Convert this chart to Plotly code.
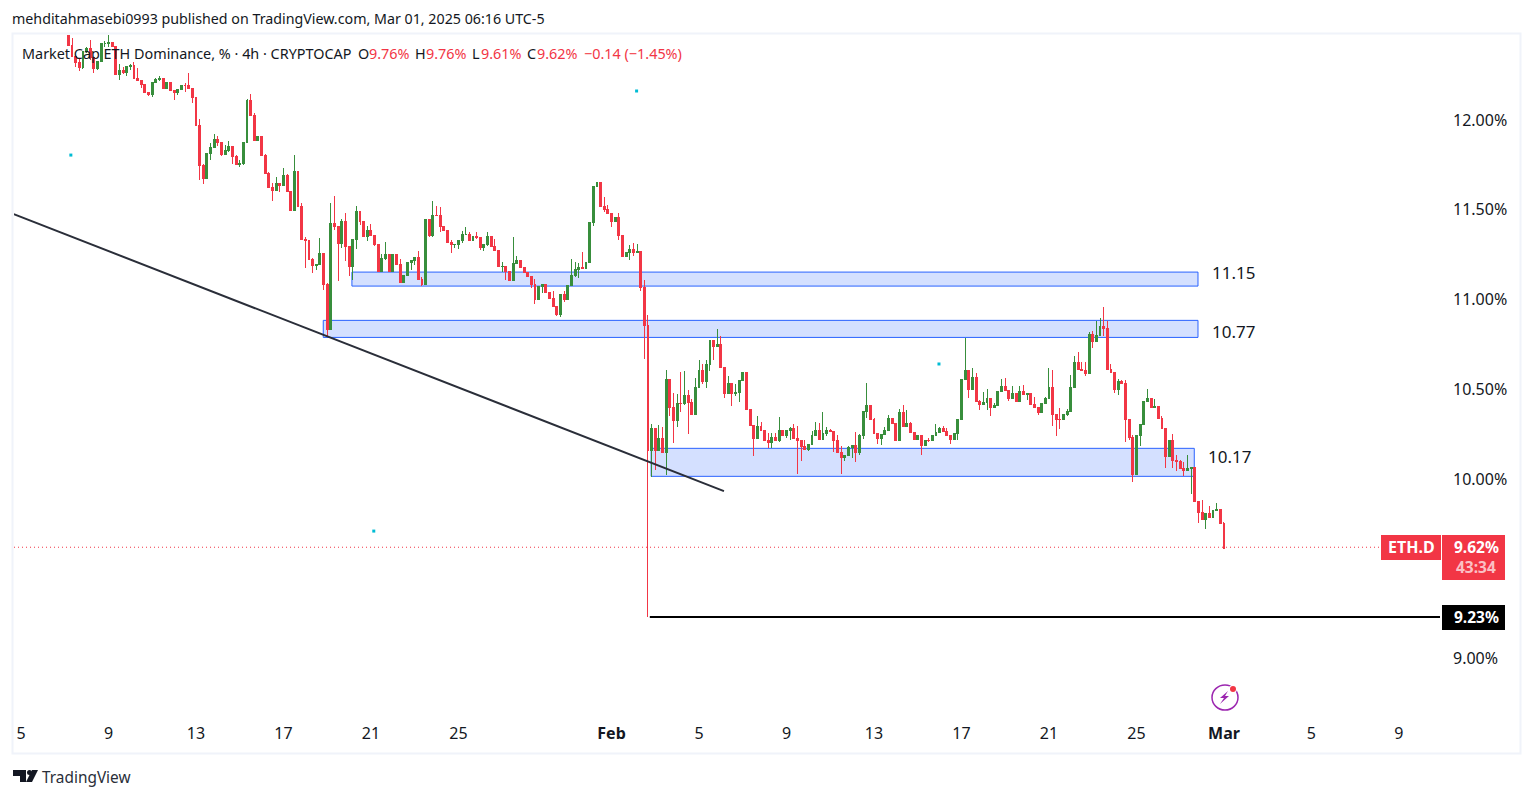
import pandas as pd
import plotly.graph_objects as go

FIRST_OPEN = 12.48
closes = [12.417,12.352,12.319,12.291,12.38,12.399,12.349,12.287,12.325,12.427,
12.427,12.432,12.408,12.256,12.278,12.267,12.297,12.302,12.234,12.222,
12.196,12.156,12.144,12.208,12.226,12.23,12.178,12.208,12.167,12.152,
12.17,12.195,12.191,12.174,12.124,11.972,11.749,11.676,11.814,11.847,
11.892,11.877,11.81,11.832,11.855,11.795,11.754,11.756,11.875,12.107,
12.027,11.888,11.91,11.805,11.703,11.625,11.61,11.647,11.637,11.693,
11.6,11.498,11.716,11.52,11.337,11.331,11.225,11.19,11.197,11.259,
11.086,10.835,11.424,11.405,11.313,11.437,11.294,11.183,11.337,11.493,
11.434,11.354,11.387,11.356,11.309,11.155,11.226,11.253,11.155,11.253,
11.198,11.094,11.136,11.207,11.216,11.235,11.114,11.086,11.448,11.359,
11.471,11.467,11.406,11.382,11.317,11.304,11.307,11.328,11.365,11.365,
11.331,11.35,11.344,11.291,11.304,11.354,11.298,11.272,11.183,11.185,
11.155,11.107,11.203,11.22,11.177,11.149,11.127,11.086,11.003,11.075,
11.086,11.042,11.006,10.96,10.919,11.03,11.003,11.081,11.136,11.17,
11.179,11.175,11.207,11.428,11.632,11.651,11.521,11.499,11.48,11.434,
11.456,11.359,11.239,11.263,11.278,11.261,11.265,11.068,10.854,10.158,
10.284,10.158,10.228,10.147,10.557,10.397,10.327,10.423,10.421,10.468,
10.425,10.362,10.511,10.602,10.546,10.639,10.774,10.741,10.75,10.62,
10.477,10.535,10.474,10.483,10.548,10.591,10.39,10.301,10.228,10.295,
10.273,10.217,10.206,10.234,10.217,10.273,10.24,10.273,10.279,10.228,
10.212,10.184,10.162,10.195,10.245,10.273,10.223,10.251,10.269,10.266,
10.212,10.15,10.122,10.132,10.178,10.189,10.15,10.245,10.379,10.409,
10.329,10.256,10.228,10.247,10.273,10.34,10.308,10.217,10.373,10.295,
10.312,10.262,10.223,10.245,10.189,10.217,10.213,10.24,10.262,10.284,
10.267,10.24,10.223,10.256,10.334,10.557,10.607,10.5,10.568,10.431,
10.418,10.427,10.451,10.401,10.412,10.485,10.518,10.496,10.451,10.479,
10.434,10.49,10.473,10.477,10.418,10.396,10.368,10.423,10.446,10.512,
10.357,10.334,10.332,10.357,10.379,10.511,10.652,10.613,10.607,10.59,
10.808,10.769,10.802,10.852,10.836,10.613,10.596,10.501,10.546,10.533,
10.334,10.234,10.028,10.245,10.306,10.434,10.446,10.396,10.405,10.34,
10.279,10.123,10.217,10.106,10.1,10.061,10.05,10.061,10.067,9.877,
9.816,9.772,9.809,9.788,9.822,9.831,9.755,9.614]

highs = [12.49,12.46,12.352,12.343,12.38,12.405,12.445,12.349,12.325,12.427,
12.44,12.479,12.432,12.41,12.312,12.293,12.297,12.31,12.321,12.291,
12.222,12.196,12.156,12.208,12.235,12.243,12.233,12.208,12.208,12.17,
12.17,12.195,12.204,12.263,12.176,12.126,12.005,11.754,11.814,11.875,
11.922,11.91,11.88,11.86,11.883,11.855,11.805,11.777,11.875,12.12,
12.144,12.039,11.91,11.91,11.81,11.708,11.647,11.684,11.647,11.734,
11.699,11.6,11.805,11.716,11.537,11.346,11.331,11.232,11.197,11.342,
11.259,11.093,11.539,11.576,11.405,11.448,11.483,11.294,11.337,11.521,
11.493,11.434,11.411,11.42,11.356,11.309,11.253,11.322,11.253,11.253,
11.253,11.225,11.136,11.207,11.223,11.235,11.27,11.127,11.448,11.448,
11.549,11.523,11.515,11.406,11.382,11.331,11.312,11.328,11.382,11.406,
11.374,11.35,11.378,11.344,11.309,11.378,11.354,11.337,11.272,11.207,
11.185,11.155,11.35,11.242,11.22,11.177,11.149,11.127,11.114,11.075,
11.086,11.086,11.042,11.049,10.96,11.03,11.049,11.081,11.226,11.207,
11.205,11.263,11.207,11.428,11.632,11.655,11.651,11.569,11.526,11.48,
11.456,11.48,11.359,11.263,11.305,11.313,11.309,11.265,11.109,10.914,
10.305,10.284,10.299,10.29,10.607,10.557,10.479,10.473,10.596,10.602,
10.496,10.444,10.561,10.663,10.639,10.663,10.774,10.774,10.836,10.797,
10.62,10.574,10.535,10.529,10.548,10.591,10.591,10.39,10.301,10.351,
10.316,10.273,10.254,10.258,10.254,10.345,10.273,10.273,10.291,10.306,
10.295,10.212,10.217,10.195,10.27,10.317,10.312,10.373,10.289,10.278,
10.269,10.243,10.184,10.132,10.185,10.189,10.262,10.25,10.379,10.535,
10.414,10.34,10.256,10.247,10.292,10.357,10.34,10.308,10.39,10.412,
10.384,10.317,10.262,10.245,10.245,10.217,10.226,10.24,10.306,10.29,
10.295,10.284,10.24,10.256,10.334,10.557,10.785,10.607,10.618,10.59,
10.44,10.485,10.501,10.451,10.425,10.485,10.557,10.563,10.496,10.518,
10.479,10.518,10.525,10.479,10.477,10.457,10.396,10.423,10.457,10.618,
10.607,10.357,10.394,10.357,10.392,10.577,10.685,10.707,10.652,10.652,
10.819,10.824,10.882,10.897,10.958,10.88,10.641,10.596,10.557,10.551,
10.551,10.334,10.245,10.245,10.306,10.434,10.501,10.449,10.446,10.405,
10.351,10.279,10.217,10.251,10.133,10.106,10.094,10.133,10.067,10.067,
9.877,9.885,9.809,9.852,9.822,9.866,9.831,9.76]

lows = [12.41,12.352,12.297,12.274,12.287,12.372,12.334,12.263,12.278,12.325,
12.408,12.408,12.408,12.256,12.222,12.256,12.247,12.278,12.234,12.222,
12.176,12.156,12.133,12.13,12.208,12.219,12.178,12.178,12.167,12.111,
12.141,12.165,12.159,12.174,12.096,11.972,11.665,11.643,11.676,11.777,
11.845,11.855,11.799,11.81,11.823,11.754,11.754,11.74,11.749,11.875,
12.027,11.883,11.888,11.805,11.703,11.625,11.548,11.61,11.6,11.637,
11.6,11.498,11.498,11.52,11.337,11.177,11.225,11.149,11.164,11.19,
11.053,10.796,10.83,11.39,11.105,11.287,11.216,11.131,11.109,11.281,
11.415,11.354,11.326,11.356,11.298,11.155,11.155,11.22,11.155,11.155,
11.198,11.094,11.094,11.136,11.164,11.192,11.114,11.077,11.086,11.35,
11.35,11.467,11.376,11.382,11.317,11.259,11.29,11.281,11.313,11.36,
11.331,11.328,11.339,11.276,11.27,11.298,11.298,11.272,11.183,11.155,
11.109,11.103,11.107,11.203,11.177,11.149,11.127,11.066,10.975,11.003,
11.038,11.042,11.006,10.96,10.908,10.904,10.988,11.003,11.081,11.127,
11.122,11.175,11.175,11.207,11.41,11.632,11.521,11.487,11.48,11.406,
11.434,11.331,11.239,11.239,11.22,11.242,11.261,11.05,10.668,9.23,
10.013,10.05,10.158,10.147,10.022,10.351,10.199,10.29,10.375,10.412,
10.251,10.362,10.357,10.511,10.53,10.507,10.602,10.663,10.741,10.62,
10.451,10.477,10.407,10.462,10.429,10.548,10.39,10.301,10.128,10.228,
10.273,10.217,10.173,10.173,10.217,10.208,10.24,10.228,10.217,10.228,
10.03,10.1,10.162,10.157,10.195,10.245,10.223,10.223,10.24,10.266,
10.15,10.15,10.03,10.1,10.132,10.115,10.095,10.134,10.223,10.34,
10.329,10.256,10.195,10.19,10.247,10.273,10.308,10.217,10.217,10.295,
10.295,10.262,10.223,10.217,10.134,10.189,10.205,10.213,10.24,10.27,
10.267,10.24,10.195,10.217,10.22,10.334,10.557,10.451,10.5,10.431,
10.384,10.41,10.384,10.351,10.394,10.412,10.485,10.496,10.435,10.451,
10.434,10.434,10.473,10.44,10.412,10.396,10.356,10.368,10.423,10.446,
10.295,10.24,10.278,10.332,10.35,10.379,10.511,10.613,10.607,10.574,
10.59,10.73,10.769,10.802,10.796,10.613,10.596,10.479,10.468,10.533,
10.206,10.217,9.983,10.02,10.184,10.306,10.434,10.396,10.396,10.34,
10.279,10.061,10.123,10.06,10.045,10.061,10.017,10.05,9.916,9.877,
9.757,9.772,9.723,9.788,9.788,9.822,9.749,9.61]

dates = pd.date_range(end="2025-03-01 03:00", periods=len(closes), freq="4h")
opens = [FIRST_OPEN] + closes[:-1]

tick_dates = ["2025-01-05","2025-01-09","2025-01-13","2025-01-17","2025-01-21","2025-01-25",
              "2025-02-01","2025-02-05","2025-02-09","2025-02-13","2025-02-17","2025-02-21",
              "2025-02-25","2025-03-01","2025-03-05","2025-03-09"]
tick_labels = ["5","9","13","17","21","25","<b>Feb</b>","5","9","13","17","21","25","<b>Mar</b>","5","9"]
price_ticks = [9.0,10.0,10.5,11.0,11.5,12.0]
price_labels = ["9.00%","10.00%","10.50%","11.00%","11.50%","12.00%"]

zone_starts = ["2025-01-20 06:07","2025-01-18 22:40","2025-02-02 22:26"]
zone_ends = ["2025-02-27 22:30","2025-02-27 22:30","2025-02-27 18:25"]
zone_tops = [11.153,10.884,10.171]
zone_bottoms = [11.075,10.789,10.015]
zone_labels = ["11.15","10.77","10.17"]
trend_x = ["2025-01-04 19:05","2025-02-06 06:22"]
trend_y = [11.476,9.933]
low_line_x = ["2025-02-02 21:00","2025-03-11 00:03"]
low_line_y = [9.231,9.231]
last_price = 9.62
dot_x = ["2025-02-02 06:30","2025-01-07 09:43","2025-01-21 06:07","2025-02-16 02:17"]
dot_y = [12.162,11.805,9.71,10.641]

UP, DOWN, INK = "#388E3C", "#F23645", "#131722"
FONT = "Noto Sans"
L, R, T, B = 14, 1440, 35, 712
def fx(p): return (p - L) / (R - L)
def fy(p): return (B - p) / (B - T)

fig = go.Figure()
fig.add_trace(go.Candlestick(x=dates, open=opens, high=highs, low=lows, close=closes,
    increasing=dict(line=dict(color=UP, width=1), fillcolor=UP),
    decreasing=dict(line=dict(color=DOWN, width=1), fillcolor=DOWN),
    whiskerwidth=0, showlegend=False))
fig.add_trace(go.Scatter(x=dot_x, y=dot_y, mode="markers", showlegend=False,
    marker=dict(color="#00BCD4", size=3, symbol="square")))
fig.add_trace(go.Scatter(x=trend_x, y=trend_y, mode="lines", showlegend=False,
    line=dict(color="#2A2E39", width=2)))
fig.add_trace(go.Scatter(x=low_line_x, y=low_line_y, mode="lines", showlegend=False,
    line=dict(color="#000000", width=2)))

shapes = []
for a, b, t, u in zip(zone_starts, zone_ends, zone_tops, zone_bottoms):
    shapes.append(dict(type="rect", xref="x", yref="y", x0=a, x1=b, y0=u, y1=t, layer="below",
                       fillcolor="rgba(41,98,255,0.2)", line=dict(color="#2962FF", width=1)))
shapes.append(dict(type="line", xref="paper", yref="y", x0=0, x1=fx(1381), y0=last_price, y1=last_price,
                   layer="below", line=dict(color=DOWN, width=1, dash="1px,3px")))

def prect(x0, y0, x1, y1, color, line=None):
    return dict(type="rect", xref="paper", yref="paper", x0=fx(x0), x1=fx(x1), y0=fy(y1), y1=fy(y0),
                fillcolor=color, line=line or dict(width=0), layer="above")
shapes.append(dict(type="rect", xref="paper", yref="paper", x0=fx(12.5), x1=fx(1520.5), y0=fy(753.5), y1=fy(33.5),
                   line=dict(color="#F0F3FA", width=2), layer="below"))
shapes += [prect(1381,535,1441,560,DOWN), prect(1442,535,1505,580,DOWN), prect(1442,605,1505,630,"#000000")]

def ppath(pts):
    return "M " + " L ".join(f"{fx(x):.5f},{fy(y):.5f}" for x, y in pts) + " Z"
shapes.append(dict(type="circle", xref="paper", yref="paper", x0=fx(1212), x1=fx(1238), y0=fy(710), y1=fy(685),
                   line=dict(color="#9C27B0", width=1.5), layer="above"))
shapes.append(dict(type="path", xref="paper", yref="paper",
                   path=ppath([(1228,691),(1220,698),(1224,698),(1220,704),(1229,696),(1225,696)]),
                   fillcolor="#9C27B0", line=dict(width=0), layer="above"))
shapes.append(dict(type="circle", xref="paper", yref="paper", x0=fx(1229), x1=fx(1237), y0=fy(693), y1=fy(685),
                   fillcolor="#FFFFFF", line=dict(width=0), layer="above"))
shapes.append(dict(type="circle", xref="paper", yref="paper", x0=fx(1230), x1=fx(1236), y0=fy(692), y1=fy(686),
                   fillcolor=DOWN, line=dict(width=0), layer="above"))
shapes.append(dict(type="path", xref="paper", yref="paper",
                   path=ppath([(13,770),(26,770),(26,782),(20,782),(20,776),(13,776)]),
                   fillcolor=INK, line=dict(width=0), layer="above"))
shapes.append(dict(type="path", xref="paper", yref="paper",
                   path=ppath([(32,770),(38,770),(32,782),(26,782)]),
                   fillcolor=INK, line=dict(width=0), layer="above"))
shapes.append(dict(type="circle", xref="paper", yref="paper", x0=fx(27), x1=fx(32), y0=fy(775), y1=fy(770),
                   fillcolor=INK, line=dict(width=0), layer="above"))

def label(px, py, text, size=14, color=INK, anchor="left"):
    return dict(xref="paper", yref="paper", x=fx(px), y=fy(py), text=text, showarrow=False,
                xanchor=anchor, yanchor="middle", align=anchor, xshift=0, borderpad=0, borderwidth=0,
                font=dict(family=FONT, size=size, color=color))

annotations = [
    label(12, 19, "mehditahmasebi0993 published on TradingView.com, Mar 01, 2025 06:16 UTC-5", 14.25),
    label(22, 54, "Market Cap ETH Dominance, % · 4h · CRYPTOCAP", 14.4),
    label(358, 54, "O", 14.4), label(369, 54, "9.76%", 14.4, DOWN),
    label(415, 54, "H", 14.4), label(426, 54, "9.76%", 14.4, DOWN),
    label(472, 54, "L", 14.4), label(481, 54, "9.61%", 14.4, DOWN),
    label(527, 54, "C", 14.4), label(537, 54, "9.62%", 14.4, DOWN),
    label(584, 54, "−0.14 (−1.45%)", 14.4, DOWN),
    label(1233, 272, zone_labels[0], 17, anchor="center"),
    label(1233, 331, zone_labels[1], 17, anchor="center"),
    label(1229, 456, zone_labels[2], 17, anchor="center"),
    label(1411, 547, "<b>ETH.D</b>", 16, "#FFFFFF", "center"),
    label(1476.5, 547, "<b>9.62%</b>", 15.5, "#FFFFFF", "center"),
    label(1476, 567, "<b>43:34</b>", 15.5, "rgba(255,255,255,0.7)", "center"),
    label(1476.5, 617, "<b>9.23%</b>", 15.5, "#FFFFFF", "center"),
    label(42, 777, "TradingView", 15.4, "#2A2E39"),
]

fig.update_layout(
    width=1534, height=798, autosize=False, plot_bgcolor="#FFFFFF", paper_bgcolor="#FFFFFF",
    margin=dict(l=L, r=1534 - R, t=T, b=798 - B, pad=0), showlegend=False, hovermode=False,
    boxgap=0.25, shapes=shapes, annotations=annotations,
    font=dict(family=FONT, size=16, color=INK),
    xaxis=dict(type="date", range=["2025-01-04 19:20", "2025-03-11 00:03"], rangeslider=dict(visible=False),
               tickmode="array", tickvals=[d + " 03:00" for d in tick_dates], ticktext=tick_labels,
               showgrid=False, zeroline=False, showline=False, ticks="", ticklabelstandoff=10,
               tickfont=dict(family=FONT, size=16, color=INK)),
    yaxis=dict(side="right", range=[8.702, 12.474], tickmode="array", tickvals=price_ticks, ticktext=price_labels,
               showgrid=False, zeroline=False, showline=False, ticks="", ticklabelstandoff=12,
               tickfont=dict(family=FONT, size=16, color=INK)),
)
page_fix = """
document.documentElement.style.overflow='hidden';
document.body.style.margin='0';
document.body.style.overflow='hidden';
var s=document.createElement('style');
s.textContent='.boxlayer path{shape-rendering:crispEdges}';
document.head.appendChild(s);
"""
fig.write_html("out.html", config=dict(displayModeBar=False), post_script=page_fix)
